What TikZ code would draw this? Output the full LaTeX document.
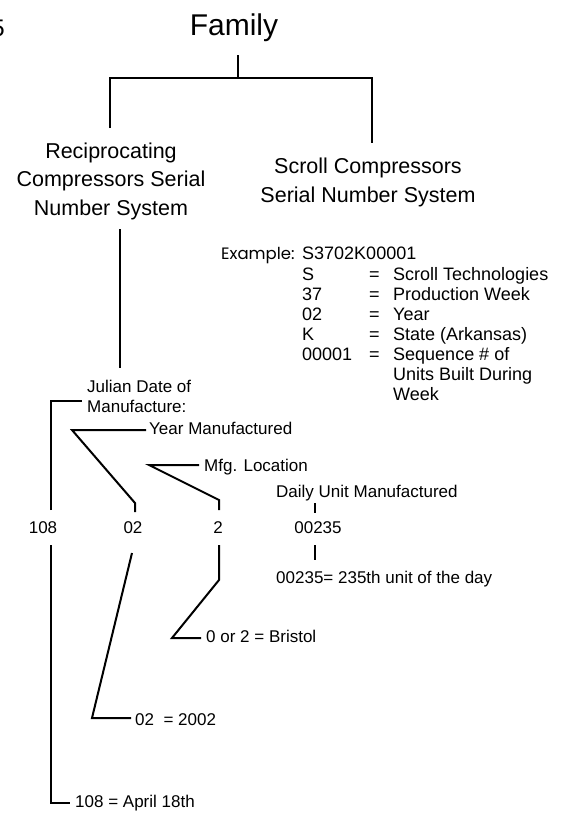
\documentclass[tikz,border=0pt]{standalone}
\usepackage{fontspec}
\setmainfont{Liberation Sans}
\newfontfamily\futura{Poppins}
\begin{document}
\begin{tikzpicture}[x=1pt,y=-1pt,
  conn/.style={line width=2pt,line join=miter},
  lbl/.style={inner sep=0pt,anchor=base west,font=\fontsize{17}{20}\selectfont},
  rlbl/.style={inner sep=0pt,anchor=base west,font=\fontsize{18}{20}\selectfont},
  num/.style={inner sep=0pt,anchor=base,font=\fontsize{17}{20}\selectfont},
  head/.style={inner sep=0pt,align=center,font=\fontsize{21.5}{28.5}\selectfont}]
\useasboundingbox (0,0) rectangle (579,814);
\node[inner sep=0pt,anchor=base east,font=\fontsize{24}{28}\selectfont] (pg) at (5,36) {5};
% top tree
\node[inner sep=0pt,anchor=base,font=\fontsize{30}{34}\selectfont] (fam) at (234,35) {Family};
\node[head,anchor=base] (rec) at (111,215) {Reciprocating\\Compressors Serial\\Number System};
\node[head,anchor=base] (scr) at (368,202) {Scroll Compressors\\Serial Number System};
\coordinate (famb) at (238,55);
\coordinate (fj) at (238,78);
\coordinate (fl) at (110,78);
\coordinate (fr) at (372,78);
\coordinate (recT) at (110,128);
\coordinate (scrT) at (372,143);
\draw[conn] (famb) -- (fj);
\draw[conn] (recT) -- (fl) -- (fr) -- (scrT);
\coordinate (recB) at (120,229);
\coordinate (julT) at (120,368);
\draw[conn] (recB) -- (julT);
% example block
\node[rlbl,font=\futura\fontsize{16.5}{20}\selectfont] (ex) at (221,259) {Example:};
\node[rlbl] (exs) at (302,259) {S3702K00001};
\foreach \a/\b/\y [count=\i] in {S/Scroll Technologies/280,37/Production Week/300,02/Year/320,K/State (Arkansas)/340,00001/Sequence \# of/360}{
  \node[rlbl] (ka\i) at (302,\y) {\a};
  \node[rlbl] (eq\i) at (369,\y) {=};
  \node[rlbl] (kv\i) at (393,\y) {\b};
}
\node[rlbl] (kv6) at (393,380) {Units Built During};
\node[rlbl] (kv7) at (393,400) {Week};
% Julian
\node[lbl] (jul) at (87,392) {Julian Date of};
\node[lbl] (jul2) at (87,412) {Manufacture:};
\node[lbl] (yr) at (149,434) {Year Manufactured};
\node[lbl] (mfg) at (204,471) {Mfg. Location};
\node[lbl] (daily) at (276,497) {Daily Unit Manufactured};
\node[num] (n108) at (43,533) {108};
\node[num] (n02) at (133,533) {02};
\node[num] (n2) at (218,533) {2};
\node[num] (n235) at (318,533) {00235};
\node[lbl] (a108) at (75,807) {108 = April 18th};
\node[lbl] (a02) at (135,725) {02\ \ = 2002};
\node[lbl] (a2) at (206,642) {0 or 2 = Bristol};
\node[lbl] (a235) at (276,583) {00235= 235th unit of the day};
% connectors
\coordinate (j1) at (51,510);
\coordinate (j2) at (51,401);
\coordinate (j3) at (82,401);
\draw[conn] (j1) -- (j2) -- (j3);
\coordinate (y1) at (146,430);
\coordinate (y2) at (72,430);
\coordinate (y3) at (135,503);
\coordinate (y4) at (135,512);
\draw[conn] (y1) -- (y2) -- (y3) -- (y4);
\coordinate (m1) at (199,465);
\coordinate (m2) at (149,465);
\coordinate (m3) at (219,500);
\coordinate (m4) at (219,510);
\draw[conn] (m1) -- (m2) -- (m3) -- (m4);
\coordinate (d1) at (315,503);
\coordinate (d2) at (315,513);
\draw[conn] (d1) -- (d2);
\coordinate (b1) at (51,545);
\coordinate (b2) at (51,803);
\coordinate (b3) at (70,803);
\draw[conn] (b1) -- (b2) -- (b3);
\coordinate (c1) at (132,553);
\coordinate (c2) at (92,718);
\coordinate (c3) at (131,718);
\draw[conn] (c1) -- (c2) -- (c3);
\coordinate (e1) at (219,545);
\coordinate (e2) at (219,580);
\coordinate (e3) at (172,638);
\coordinate (e4) at (201,638);
\draw[conn] (e1) -- (e2) -- (e3) -- (e4);
\coordinate (t1) at (315,545);
\coordinate (t2) at (315,560);
\draw[conn] (t1) -- (t2);
\end{tikzpicture}
\end{document}
